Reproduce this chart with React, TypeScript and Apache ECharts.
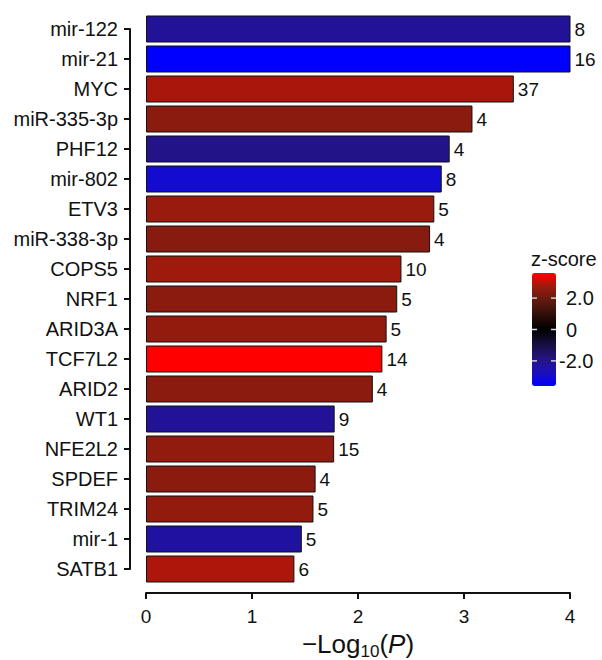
import React, { useEffect, useRef } from "react";
import * as echarts from "echarts";

const categories = [
  "mir-122", "mir-21", "MYC", "miR-335-3p", "PHF12", "mir-802", "ETV3", "miR-338-3p",
  "COPS5", "NRF1", "ARID3A", "TCF7L2", "ARID2", "WT1", "NFE2L2", "SPDEF", "TRIM24", "mir-1", "SATB1",
];
const negLog10P = [
  4.05, 4.03, 3.47, 3.08, 2.865, 2.79, 2.72, 2.68, 2.41, 2.37, 2.27, 2.23, 2.14, 1.78, 1.775, 1.6, 1.58, 1.47, 1.4,
];
const geneCounts = [8, 16, 37, 4, 4, 8, 5, 4, 10, 5, 5, 14, 4, 9, 15, 4, 5, 5, 6];
const zScores = [
  -2.2, -3.6, 2.85, 2.5, -2.0, -3.0, 2.7, 2.45, 2.75, 2.5, 2.62, 3.6, 2.48, -2.2, 2.58, 2.5, 2.62, -2.35, 2.88,
];
const zMin = -3.6;
const zMax = 3.6;
const zTicks = [2, 0, -2];
const zTickLabels = ["2.0", "0", "-2.0"];
const zColors = [
  "#0000ff", "#1c10b8", "#25147c", "#150f3c", "#000000", "#2c0d07", "#5e1a10", "#981b0e", "#ff0000",
];

const FONT = "Arial, 'Liberation Sans', Helvetica, sans-serif";

export default function App() {
  const ref = useRef<HTMLDivElement>(null);
  useEffect(() => {
    document.body.style.margin = "0";
    const chart = echarts.init(ref.current!, null, { renderer: "svg" });

    const legendLeft = 532;
    const legendTop = 273;
    const legendW = 24;
    const legendH = 113;
    const zToY = (v: number) => legendTop + ((zMax - v) / (zMax - zMin)) * legendH;

    const graphics: any[] = [
      {
        type: "text",
        x: 531,
        y: 259,
        style: { text: "z-score", font: `20px ${FONT}`, fill: "#111", textAlign: "left", textVerticalAlign: "middle" },
      },
    ];
    zTicks.forEach((v, i) => {
      const y = zToY(v);
      graphics.push({
        type: "line",
        shape: { x1: legendLeft, y1: y, x2: legendLeft + 5, y2: y },
        style: { stroke: v === 0 ? "#dddddd" : "#cfcfcf", lineWidth: 1.5 },
        z: 100,
      });
      graphics.push({
        type: "line",
        shape: { x1: legendLeft + legendW - 5, y1: y, x2: legendLeft + legendW, y2: y },
        style: { stroke: v === 0 ? "#dddddd" : "#cfcfcf", lineWidth: 1.5 },
        z: 100,
      });
      const label = zTickLabels[i];
      graphics.push({
        type: "text",
        x: label.startsWith("-") ? 559 : 566,
        y: y,
        style: {
          text: label,
          font: `20px ${FONT}`,
          fill: "#111",
          textAlign: "left",
          textVerticalAlign: "middle",
        },
      });
    });

    chart.setOption({
      animation: false,
      grid: { left: 146, right: 32, top: 29, bottom: 91, containLabel: false, outerBoundsMode: "none" },
      xAxis: {
        type: "value",
        min: 0,
        max: 4,
        interval: 1,
        offset: 24,
        axisLine: { show: true, onZero: false, lineStyle: { color: "#111", width: 2 } },
        axisTick: { show: true, length: 6, lineStyle: { color: "#111", width: 2 } },
        axisLabel: { fontSize: 19, color: "#111", fontFamily: FONT, margin: 14 },
        splitLine: { show: false },
        name: "{n|−Log}{s|10}{n|(}{i|P}{n|)}",
        nameLocation: "middle",
        nameGap: 35,
        nameTextStyle: {
          rich: {
            n: { fontSize: 26, fontFamily: FONT, color: "#111", lineHeight: 30, verticalAlign: "middle" },
            i: { fontSize: 26, fontFamily: FONT, color: "#111", lineHeight: 30, fontStyle: "italic", verticalAlign: "middle" },
            s: { fontSize: 17, fontFamily: FONT, color: "#111", lineHeight: 32, verticalAlign: "bottom" },
          },
        },
      },
      yAxis: {
        type: "category",
        data: categories,
        inverse: true,
        boundaryGap: false,
        offset: 16,
        axisLine: { show: true, onZero: false, lineStyle: { color: "#111", width: 2 } },
        axisTick: { show: true, length: 6, alignWithLabel: true, lineStyle: { color: "#111", width: 2 } },
        axisLabel: { fontSize: 20, color: "#111", fontFamily: FONT, margin: 12 },
        splitLine: { show: false },
      },
      visualMap: {
        type: "continuous",
        min: zMin,
        max: zMax,
        dimension: 2,
        seriesIndex: 0,
        calculable: false,
        orient: "vertical",
        left: legendLeft,
        top: legendTop,
        itemWidth: legendW,
        itemHeight: legendH,
        padding: 0,
        showLabel: false,
        inRange: { color: zColors },
      },
      series: [
        {
          type: "bar",
          barWidth: 27,
          encode: { x: 0, y: 1 },
          data: categories.map((c, i) => ({ value: [negLog10P[i], c, zScores[i], geneCounts[i]] })),
          itemStyle: { borderColor: "#111", borderWidth: 1 },
          label: {
            show: true,
            position: "right",
            distance: 4,
            fontSize: 19,
            fontFamily: FONT,
            color: "#111",
            formatter: (p: any) => String(p.value[3]),
          },
        },
      ],
      graphic: graphics,
    });
    return () => chart.dispose();
  }, []);
  return <div ref={ref} style={{ width: 602, height: 660 }} />;
}
